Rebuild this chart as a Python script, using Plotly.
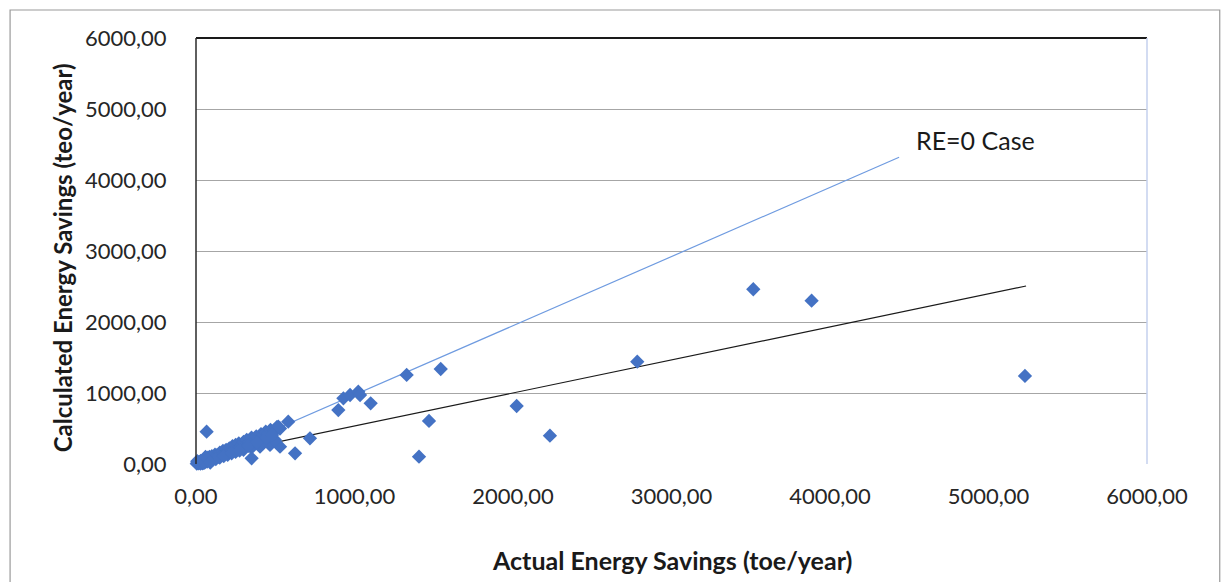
import plotly.graph_objects as go

# Measured project savings (toe/year) vs. calculated savings (teo/year)
actual = [
    5, 10, 15, 20, 25, 30, 35, 40, 45, 50, 55, 60, 65, 70, 75, 80, 85, 90, 95, 100,
    110, 120, 130, 140, 150, 160, 170, 180, 190, 200, 210, 220, 230, 240, 250, 260,
    270, 285, 300, 310, 320, 335, 350, 365, 380, 395, 410, 425, 440, 455, 470, 490,
    510, 530, 150, 200, 250, 300, 350, 404, 467, 530, 420, 351, 67, 582, 625, 719,
    498, 519, 898, 930, 972, 1024, 1035, 1102, 1329, 1407, 1470, 1544, 2023, 2233,
    2784, 3516, 3884, 5230,
    12, 28, 48, 105, 125, 175, 225, 275, 330, 385, 445, 480, 8, 60, 90,
]
calculated = [
    5, 20, 8, 30, 15, 45, 25, 10, 50, 40, 20, 70, 60, 35, 90, 55, 100, 75, 40, 110,
    95, 130, 120, 100, 160, 140, 185, 150, 200, 180, 220, 205, 250, 215, 270, 240,
    290, 260, 310, 280, 340, 300, 370, 330, 390, 360, 420, 400, 455, 430, 480, 460,
    520, 500, 90, 130, 170, 200, 230, 244, 268, 244, 320, 80, 455, 596, 150, 362,
    338, 525, 760, 925, 972, 1018, 972, 855, 1254, 103, 606, 1338, 817, 399,
    1441, 2461, 2300, 1240,
    -10, 5, 15, 60, 70, 110, 150, 190, 255, 300, 370, 410, 40, 100, 20,
]

# Reference line for the RE=0 case and the fitted trend line
re0_x = [0, 4436]
re0_y = [0, 4320]
trend_x = [0, 5237]
trend_y = [70, 2507]

tick_vals = [0, 1000, 2000, 3000, 4000, 5000, 6000]
tick_text = ["0,00", "1000,00", "2000,00", "3000,00", "4000,00", "5000,00", "6000,00"]

FONT = "Lato, 'Open Sans', sans-serif"

fig = go.Figure()
fig.add_trace(go.Scatter(
    x=re0_x, y=re0_y, mode="lines",
    line=dict(color="#6F9BE0", width=1.2), hoverinfo="skip",
))
fig.add_trace(go.Scatter(
    x=trend_x, y=trend_y, mode="lines",
    line=dict(color="#1a1a1a", width=1.2), hoverinfo="skip",
))
fig.add_trace(go.Scatter(
    x=actual, y=calculated, mode="markers",
    marker=dict(symbol="diamond", size=11, color="#4472C4", line=dict(width=0)),
    cliponaxis=False,
))

fig.add_annotation(
    x=4530, y=4560, xref="x", yref="y", text="RE=0 Case", showarrow=False,
    xanchor="left", yanchor="middle", font=dict(family=FONT, size=25, color="#1a1a1a"),
)
fig.add_annotation(
    x=0.5, y=-0.225, xref="paper", yref="paper", text="<b>Actual Energy Savings (toe/year)</b>",
    showarrow=False, xanchor="center", yanchor="middle",
    font=dict(family=FONT, size=25, color="#1a1a1a"),
)
fig.add_annotation(
    x=-0.141, y=0.485, xref="paper", yref="paper",
    text="<b>Calculated Energy Savings (teo/year)</b>", textangle=-90,
    showarrow=False, xanchor="center", yanchor="middle",
    font=dict(family=FONT, size=24, color="#1a1a1a"),
)

# Outer chart frame
fig.add_shape(type="rect", xref="paper", yref="paper", x0=-0.1955, x1=1.0765, y0=-0.3, y1=1.0657,
              line=dict(color="#9a9a9a", width=1.2), fillcolor="rgba(0,0,0,0)", layer="below")
# Plot area borders
fig.add_shape(type="line", xref="paper", yref="paper", x0=0, x1=1, y0=1, y1=1,
              line=dict(color="#1a1a1a", width=2))
fig.add_shape(type="line", xref="paper", yref="paper", x0=0, x1=0, y0=0, y1=1,
              line=dict(color="#2a2a2a", width=1.5))
fig.add_shape(type="line", xref="paper", yref="paper", x0=1, x1=1, y0=0, y1=1,
              line=dict(color="#c5d0ee", width=1.5))

fig.update_layout(
    width=1225, height=582,
    margin=dict(l=196, r=78, t=38, b=118),
    paper_bgcolor="white", plot_bgcolor="white",
    showlegend=False,
    font=dict(family=FONT, size=22, color="#262626"),
)
fig.update_xaxes(
    range=[0, 6000], tickvals=tick_vals, ticktext=tick_text,
    showgrid=False, zeroline=False, showline=False,
    ticks="outside", ticklen=0, ticklabelstandoff=13,
    tickfont=dict(family=FONT, size=22, color="#262626"),
)
fig.update_yaxes(
    range=[0, 6000], tickvals=tick_vals, ticktext=tick_text,
    showgrid=True, gridcolor="#a6a6a6", gridwidth=1.2, zeroline=False, showline=False,
    ticks="outside", ticklen=0, ticklabelstandoff=24,
    tickfont=dict(family=FONT, size=22, color="#262626"),
)

fig.write_html("out.html")
